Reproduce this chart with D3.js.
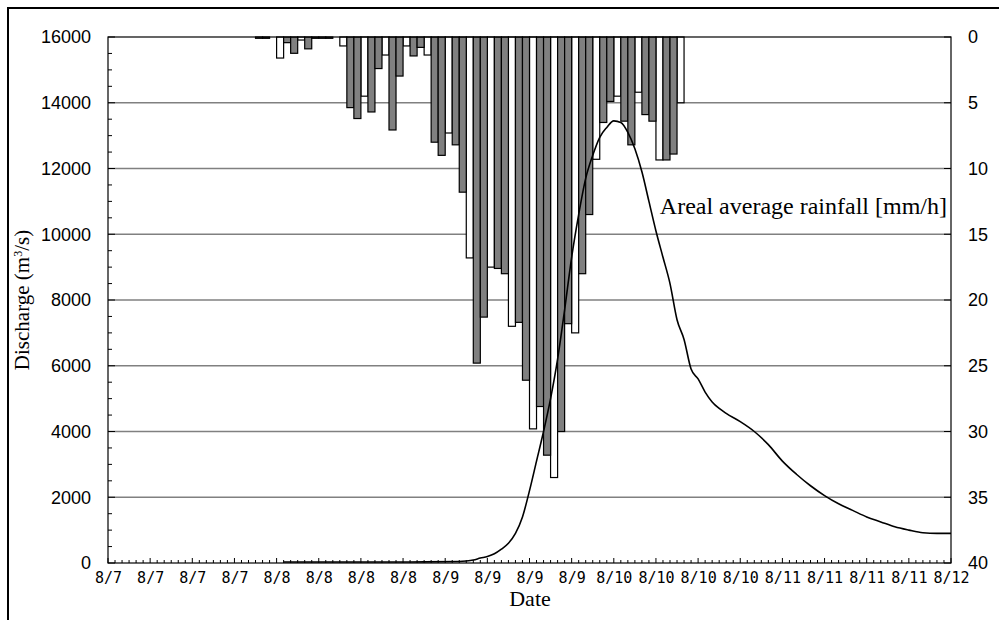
<!DOCTYPE html>
<html><head><meta charset="utf-8">
<script src="https://cdn.jsdelivr.net/npm/d3@7"></script>
<style>
html,body{margin:0;padding:0;background:#fff;}
svg{display:block;}
</style>
</head><body>
<svg id="chart" width="999" height="620"></svg>
<script>
// ---- data ----
const tickLabels = ["8/7","8/7","8/7","8/7","8/8","8/8","8/8","8/8","8/9","8/9","8/9","8/9","8/10","8/10","8/10","8/10","8/11","8/11","8/11","8/11","8/12"];
const tickHours = [0,6,12,18,24,30,36,42,48,54,60,66,72,78,84,90,96,102,108,114,120];
const dischargeTicks = [0,2000,4000,6000,8000,10000,12000,14000,16000];
const rainTicks = [0,5,10,15,20,25,30,35,40];

// rainfall (mm/h), hour index from 8/7 0:00
const whiteHours  = [21,24,27,30,33,36,39,42,45,48,51,54,57,60,63,66,69,72,75,78,81];
const whiteValues = [0.1,1.6,0.23,0.1,0.68,4.5,1.37,0.68,1.37,7.3,16.8,17.5,22.0,29.8,33.5,22.5,9.3,4.5,4.2,9.35,5.0];
const grayHours  = [22,25,26,28,29,31,34,35,37,38,40,41,43,44,46,47,49,50,52,53,55,56,58,59,61,62,64,65,67,68,70,71,73,74,76,77,79,80];
const grayValues = [0.1,0.43,1.24,0.9,0.1,0.1,5.37,6.2,5.7,2.4,7.07,2.97,1.44,0.79,8.0,9.0,8.2,11.8,24.8,21.3,17.6,18.0,21.7,26.1,28.1,31.8,30.0,21.8,18.0,13.5,6.5,4.9,6.4,8.2,5.9,6.4,9.35,8.9];

// discharge (m3/s)
const qHours  = [25,30,35,40,45,50,51,52,53,54,55,56,57,58,59,60,61,62,63,64,65,66,67,68,69,70,71,72,73,74,75,76,77,78,79,80,81,82,83,84,85,86,87,88,90,92,94,96,98,100,102,104,106,108,110,112,114,116,118,120];
const qValues = [30,30,30,30,35,45,60,90,150,200,280,420,600,900,1400,2200,3100,4000,5000,6200,7700,9300,10600,11700,12400,12950,13250,13450,13400,13100,12600,11900,11000,10100,9300,8500,7400,6800,5900,5600,5200,4900,4700,4550,4300,4000,3600,3100,2700,2350,2050,1800,1600,1400,1250,1100,1000,920,900,900];

// ---- drawing ----
const svg = d3.select("#chart");
const L = 108, R = 951, T = 37, B = 563;
const x = d3.scaleLinear().domain([0,120]).range([L,R]);
const yQ = d3.scaleLinear().domain([0,16000]).range([B,T]);
const yR = d3.scaleLinear().domain([0,40]).range([T,B]);
const serif = "'Liberation Serif','Times New Roman',serif";

// outer frame
svg.append("rect").attr("x",8).attr("y",8).attr("width",1010).attr("height",640)
  .attr("fill","none").attr("stroke","#000").attr("stroke-width",2);

// gridlines
svg.append("g").selectAll("line").data(dischargeTicks.filter(d=>d>0 && d<16000)).join("line")
  .attr("x1",L).attr("x2",R).attr("y1",d=>yQ(d)).attr("y2",d=>yQ(d))
  .attr("stroke","#808080").attr("stroke-width",1.5);

// rainfall bars
const bars = whiteHours.map((h,i)=>({h, v:whiteValues[i], c:"#fff"}))
  .concat(grayHours.map((h,i)=>({h, v:grayValues[i], c:"#808080"})));
svg.append("g").selectAll("rect").data(bars).join("rect")
  .attr("x",d=>x(d.h)).attr("width",d=>x(d.h+1)-x(d.h))
  .attr("y",T).attr("height",d=>yR(d.v)-T)
  .attr("fill",d=>d.c).attr("stroke","#000").attr("stroke-width",1.2);

// discharge line
const line = d3.line().x((d,i)=>x(qHours[i])).y(d=>yQ(d)).curve(d3.curveMonotoneX);
svg.append("path").attr("d",line(qValues)).attr("fill","none").attr("stroke","#000").attr("stroke-width",1.6);

// plot frame
svg.append("rect").attr("x",L).attr("y",T).attr("width",R-L).attr("height",B-T)
  .attr("fill","none").attr("stroke","#000").attr("stroke-width",1.2);

// left axis
const leftAxis = d3.axisLeft(yQ).tickValues(dischargeTicks).tickSize(0).tickPadding(17).tickFormat(d3.format("d"));
const gl = svg.append("g").attr("transform",`translate(${L},0)`).call(leftAxis);
gl.select(".domain").remove();
gl.selectAll("text").attr("font-family","'Liberation Sans',Arial,sans-serif").attr("font-size",18).attr("fill","#000");
svg.append("g").selectAll("line").data(d3.range(0,16001,500)).join("line")
  .attr("x1",L).attr("x2",d=>L+(d%2000===0?7:4)).attr("y1",d=>yQ(d)).attr("y2",d=>yQ(d))
  .attr("stroke","#000").attr("stroke-width",1);

// right axis
const rightAxis = d3.axisRight(yR).tickValues(rainTicks).tickSize(0).tickPadding(17);
const gr = svg.append("g").attr("transform",`translate(${R},0)`).call(rightAxis);
gr.select(".domain").remove();
gr.selectAll("text").attr("font-family","'Liberation Sans',Arial,sans-serif").attr("font-size",18).attr("fill","#000");
svg.append("g").selectAll("line").data(rainTicks).join("line")
  .attr("x1",R-7).attr("x2",R).attr("y1",d=>yR(d)).attr("y2",d=>yR(d))
  .attr("stroke","#000").attr("stroke-width",1);

// bottom axis
const bottomAxis = d3.axisBottom(x).tickValues(tickHours).tickSize(0).tickPadding(9)
  .tickFormat((d,i)=>tickLabels[i]);
const gb = svg.append("g").attr("transform",`translate(0,${B})`).call(bottomAxis);
gb.select(".domain").remove();
gb.selectAll("text").attr("font-family","'DejaVu Sans Mono',monospace").attr("font-size",15).attr("fill","#000");
svg.append("g").selectAll("line").data(d3.range(0,121,1)).join("line")
  .attr("x1",d=>x(d)).attr("x2",d=>x(d)).attr("y1",B).attr("y2",d=>B-(d%6===0?5:3))
  .attr("stroke","#000").attr("stroke-width",1);

// titles
svg.append("text").attr("x",530).attr("y",606).attr("text-anchor","middle")
  .attr("font-family",serif).attr("font-size",22).text("Date");
const yt = svg.append("text").attr("transform","translate(29,300) rotate(-90)").attr("text-anchor","middle")
  .attr("font-family",serif).attr("font-size",21);
yt.append("tspan").text("Discharge (m");
yt.append("tspan").attr("dy",-7).attr("font-size",12).text("3");
yt.append("tspan").attr("dy",7).text("/s)");
svg.append("text").attr("x",947).attr("y",214).attr("text-anchor","end")
  .attr("font-family",serif).attr("font-size",24).text("Areal average rainfall [mm/h]");
</script>
</body></html>
